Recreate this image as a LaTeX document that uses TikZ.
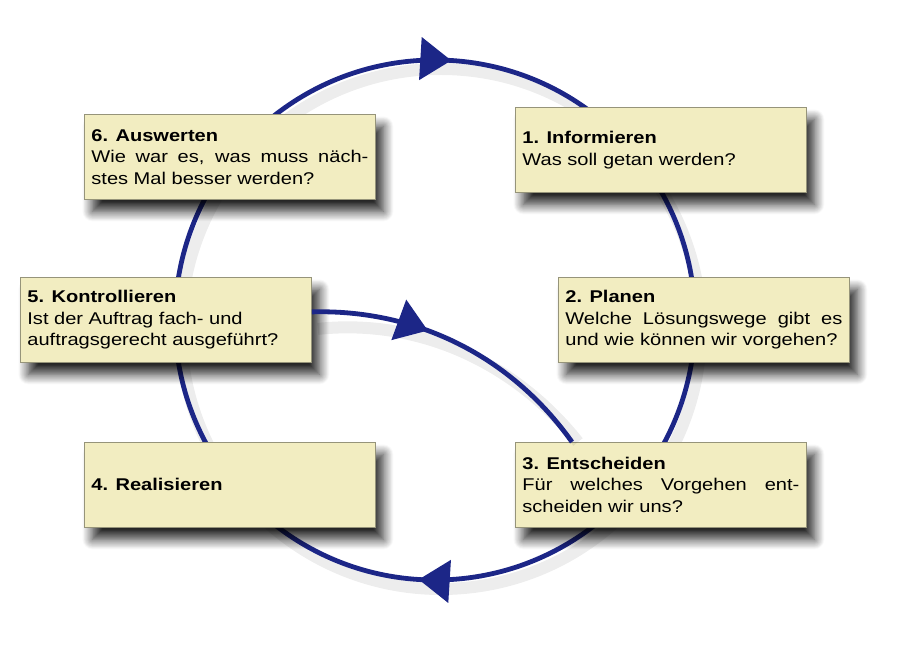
\documentclass[tikz,border=0pt]{standalone}
\usepackage{fontspec}
\setmainfont{Liberation Sans}[FakeStretch=1.18]
\usepackage{tikz}
\usetikzlibrary{arrows.meta}
\usetikzlibrary{decorations.markings}
\usetikzlibrary{shadows.blur}
\definecolor{boxfill}{RGB}{242,237,193}
\definecolor{boxline}{RGB}{150,148,122}
\definecolor{navy}{RGB}{28,38,135}
\tikzset{
    mybox/.style = {rectangle, draw=boxline, line width=0.8pt, fill=boxfill, anchor=north west, text width=277pt, minimum height=85pt, inner xsep=7pt, inner ysep=3pt, align=justify, font=\fontsize{17}{21.5}\selectfont, text=black, blur shadow={shadow xshift=8pt, shadow yshift=-12pt, shadow blur radius=10pt, shadow blur steps=12, shadow opacity=85}},
    bigtip/.tip = {Triangle[length=31pt,width=42pt]},
    edgec/.style = {-, line width=4.8pt, navy},
    edges/.style = {-, line width=12pt, black, opacity=0.07}, % shadow
    markc/.style = {postaction={decorate}, decoration={markings, mark=at position 0.26 with {\arrow{bigtip}}, mark=at position 0.76 with {\arrow{bigtip}}}},
    marki/.style = {postaction={decorate}, decoration={markings, mark=at position 0.39 with {\arrow{bigtip}}}},
}

\begin{document}
\begin{tikzpicture}[x=1pt,y=-1pt]
%
\coordinate (mid) at (435,320);
\draw[edges] ([shift={(6pt,-9pt)}]mid) circle [radius=260];
\draw[edgec, markc] (mid) circle [radius=260];
%
\node[mybox] at (515,107) (n1) {\textbf{1. Informieren}\\Was soll getan werden?};
\node[mybox] at (558,277) (n2) {\textbf{2. Planen}\\Welche Lösungswege gibt es\linebreak und wie können wir vorgehen?};
\node[mybox] at (515,442) (n3) {\textbf{3. Entscheiden}\\Für welches Vorgehen ent-\linebreak scheiden wir uns?};
\node[mybox] at (84,442) (n4) {\textbf{4. Realisieren}};
\node[mybox] at (20,277) (n5) {\textbf{5. Kontrollieren}\\Ist der Auftrag fach- und\\auftragsgerecht ausgeführt?};
\node[mybox] at (84,114) (n6) {\textbf{6. Auswerten}\\Wie war es, was muss näch-\linebreak stes Mal besser werden?};
%
\draw[edges] ([shift={(6pt,-9pt)}]n5.east) .. controls (422,318) and (517,365) .. ([xshift=63pt]n3.north west);
\draw[edgec, marki] ([yshift=8pt]n5.east) .. controls (416,309) and (511,356) .. ([xshift=57pt]n3.north west);

\path[use as bounding box] (0,0) rectangle (902,655);

\end{tikzpicture}
\end{document}
